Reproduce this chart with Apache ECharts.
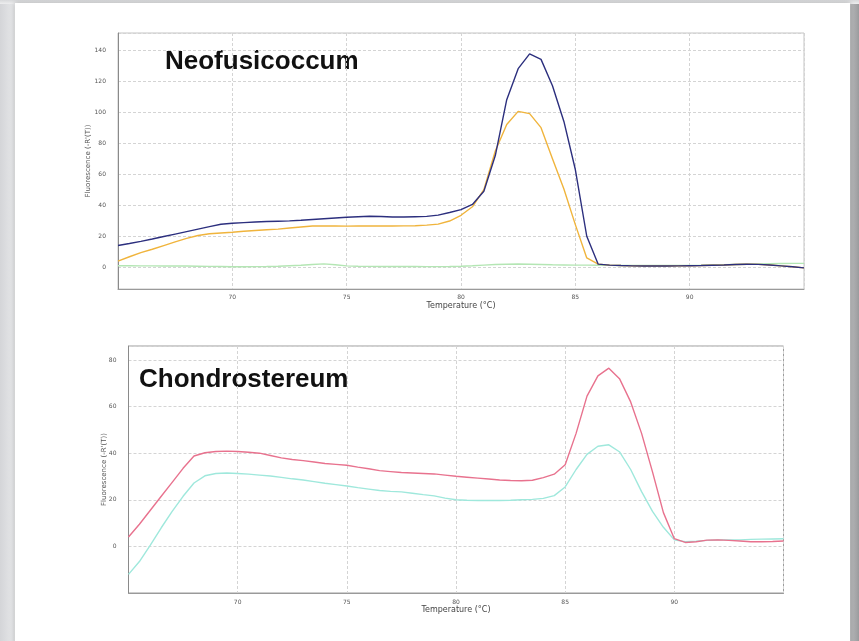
<!DOCTYPE html>
<html>
<head>
<meta charset="utf-8">
<script src="https://cdn.jsdelivr.net/npm/echarts@6/dist/echarts.min.js"></script>
<style>
  html, body { margin: 0; padding: 0; }
  body { width: 859px; height: 641px; overflow: hidden; position: relative;
         background: linear-gradient(to right, #d4d5d8 0px, #e6e7e9 14px, #ffffff 16px, #ffffff 848px, #b9babc 851px, #9a9b9d 859px); }
  #topband { position: absolute; left: 0; top: 0; width: 859px; height: 4px;
             background: linear-gradient(to bottom, #d8d9db, #eeeeef); }
  #card { position: absolute; left: 15px; top: 3px; width: 835px; height: 660px; background: #fff;
          box-shadow: 0 0 5px rgba(0,0,0,0.25); }
  #chart { position: absolute; left: 0; top: 0; width: 859px; height: 641px; }
</style>
</head>
<body>
<div id="topband"></div>
<div id="card"></div>
<div id="chart"></div>
<script>
// Melt-curve derivative data, sampled every 0.5 °C from 65 to 95 °C
const temps = [65, 65.5, 66, 66.5, 67, 67.5, 68, 68.5, 69, 69.5, 70, 70.5, 71, 71.5, 72, 72.5, 73, 73.5, 74, 74.5,
  75, 75.5, 76, 76.5, 77, 77.5, 78, 78.5, 79, 79.5, 80, 80.5, 81, 81.5, 82, 82.5, 83, 83.5, 84, 84.5,
  85, 85.5, 86, 86.5, 87, 87.5, 88, 88.5, 89, 89.5, 90, 90.5, 91, 91.5, 92, 92.5, 93, 93.5, 94, 94.5, 95];

// Neofusicoccum panel
const neoBlue = [14, 15.3, 16.7, 18.2, 19.8, 21.4, 23, 24.6, 26.2, 27.7, 28.4, 28.8, 29.2, 29.5, 29.7, 29.9, 30.3, 30.8, 31.3, 31.8,
  32.2, 32.6, 32.9, 32.7, 32.4, 32.4, 32.6, 32.8, 33.6, 35.3, 37.2, 40.5, 49, 72, 108, 128, 137.5, 134, 117, 94,
  63, 20, 2, 1.4, 1.1, 0.9, 0.8, 0.8, 0.8, 0.9, 1, 1.1, 1.3, 1.5, 1.8, 2, 1.9, 1.5, 0.9, 0.3, -0.4];
const neoOrange = [4, 6.8, 9.4, 11.6, 14, 16.4, 18.6, 20.5, 21.6, 22.1, 22.6, 23.2, 23.7, 24.2, 24.6, 25.3, 26, 26.6, 26.7, 26.6,
  26.5, 26.6, 26.6, 26.6, 26.6, 26.7, 26.8, 27.2, 27.8, 29.8, 33.5, 39, 50, 75, 92, 100.5, 99, 90, 70, 50.5,
  27.5, 6, 2, 1.4, 1.1, 0.9, 0.8, 0.8, 0.8, 0.9, 1, 1.1, 1.3, 1.5, 1.8, 2, 1.9, 1.5, 0.9, 0.3, -0.4];
const neoGreen = [1, 1, 0.9, 0.9, 0.8, 0.8, 0.8, 0.7, 0.6, 0.5, 0.3, 0.3, 0.4, 0.5, 0.7, 1, 1.3, 1.8, 2.2, 1.6,
  0.9, 0.7, 0.6, 0.5, 0.5, 0.5, 0.5, 0.4, 0.4, 0.5, 0.7, 1, 1.4, 1.8, 2, 2.1, 2, 1.8, 1.6, 1.5,
  1.4, 1.4, 1.3, 1.2, 1.1, 1.1, 1.1, 1.1, 1.1, 1.1, 1.2, 1.3, 1.5, 1.6, 1.8, 2, 2.2, 2.3, 2.4, 2.5, 2.5];

// Chondrostereum panel
const chonPink = [4, 9.5, 15.5, 21.5, 27.5, 33.5, 38.8, 40.2, 40.7, 40.9, 40.7, 40.4, 40, 39, 38, 37.3, 36.8, 36.2, 35.6, 35.2,
  34.8, 34, 33.3, 32.5, 32.1, 31.7, 31.5, 31.3, 31.1, 30.6, 30.1, 29.7, 29.3, 28.9, 28.5, 28.3, 28.2, 28.4, 29.5, 31,
  35, 48.5, 64.5, 73.2, 76.5, 71.8, 62, 48.5, 32, 14.5, 3.3, 1.7, 2, 2.7, 2.8, 2.6, 2.3, 2, 2, 2.1, 2.3];
const chonCyan = [-12, -6.5, 0.5, 8, 15, 21.5, 27.2, 30.3, 31.3, 31.5, 31.3, 31, 30.6, 30.2, 29.6, 29, 28.5, 27.8, 27.1, 26.5,
  25.9, 25.2, 24.6, 24, 23.6, 23.4, 22.8, 22.2, 21.7, 20.7, 20, 19.8, 19.7, 19.7, 19.7, 19.8, 20, 20.2, 20.6, 21.8,
  25.5, 33, 39.5, 43, 43.6, 40.5, 33, 23.5, 15, 8.2, 2.8, 2, 2.2, 2.6, 2.8, 2.8, 2.8, 3, 3.1, 3.2, 3.3];

const panelTitles = ['Neofusicoccum', 'Chondrostereum'];
const xName = 'Temperature (\u00B0C)';
const yName = "Fluorescence (-R'(T))";

const pairs = vals => temps.map((t, i) => [t, vals[i]]);

const gridLine = { show: true, lineStyle: { color: '#d4d4d4', type: [3, 2], width: 1 } };
const tickFont = { fontFamily: 'DejaVu Sans', fontSize: 6, color: '#555' };

function xAxis(gridIndex, nameGap, margin) {
  return {
    type: 'value', gridIndex, min: 65, max: 95, interval: 5,
    name: xName, nameLocation: 'middle', nameGap, nameMoveOverlap: false,
    nameTextStyle: { fontFamily: 'DejaVu Sans', fontSize: 8, color: '#444' },
    axisLine: { show: true, onZero: false, lineStyle: { color: '#9a9a9a', width: 1 } },
    axisTick: { show: false },
    axisLabel: Object.assign({ margin, showMinLabel: false, showMaxLabel: false }, tickFont),
    splitLine: gridLine
  };
}
function yAxis(gridIndex, min, max, split, nameGap, margin) {
  return {
    type: 'value', gridIndex, min, max, splitNumber: split,
    name: yName, nameLocation: 'middle', nameGap, nameRotate: 90, nameMoveOverlap: false,
    nameTextStyle: { fontFamily: 'DejaVu Sans', fontSize: 7, color: '#555' },
    axisLine: { show: true, onZero: false, lineStyle: { color: '#8a8a8a', width: 1 } },
    axisTick: { show: false },
    axisLabel: Object.assign({ margin, showMinLabel: false, showMaxLabel: false }, tickFont),
    splitLine: gridLine
  };
}
function line(name, xi, vals, color) {
  return {
    name, type: 'line', xAxisIndex: xi, yAxisIndex: xi, data: pairs(vals),
    showSymbol: false, smooth: false, lineStyle: { color, width: 1.4 }, z: 3
  };
}

const chart = echarts.init(document.getElementById('chart'), null, { renderer: 'canvas' });
chart.setOption({
  backgroundColor: 'transparent',
  animation: false,
  grid: [
    { left: 118, top: 33, width: 686, height: 256, show: true, borderColor: '#c4c4c4', borderWidth: 1, backgroundColor: 'transparent' },
    { left: 128.5, top: 346, width: 655, height: 247, show: true, borderColor: '#9c9c9c', borderWidth: 1, backgroundColor: 'transparent' }
  ],
  xAxis: [xAxis(0, 13, 5), xAxis(1, 13, 6)],
  yAxis: [yAxis(0, -14, 151, 8, 26, 12), yAxis(1, -20, 86, 5, 21, 12)],
  series: [
    line('green', 0, neoGreen, '#b4e6b4'),
    line('orange', 0, neoOrange, '#f0b43c'),
    line('blue', 0, neoBlue, '#2c2f7e'),
    line('cyan', 1, chonCyan, '#9fe8dc'),
    line('pink', 1, chonPink, '#e8728e')
  ],
  graphic: [
    { type: 'text', left: 165, top: 49, style: { text: panelTitles[0], font: 'bold 26px "Liberation Sans", Arial, sans-serif', fill: '#111' } },
    { type: 'text', left: 139, top: 367, style: { text: panelTitles[1], font: 'bold 26px "Liberation Sans", Arial, sans-serif', fill: '#111' } }
  ]
});
</script>
</body>
</html>
